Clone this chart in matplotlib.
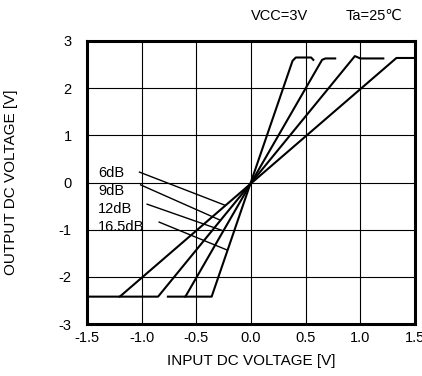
import numpy as np
import matplotlib
matplotlib.use("Agg")
import matplotlib.pyplot as plt

plt.rcParams['font.family'] = ['Liberation Sans', 'DejaVu Sans']

# curve vertices (input V, output V)
x_6db = [-1.50, -1.20, 1.33, 1.50]
y_6db = [-2.42, -2.42, 2.64, 2.64]

x_9db = [-1.20, -0.85, 0.95, 1.00, 1.21]
y_9db = [-2.42, -2.42, 2.68, 2.63, 2.63]

x_12db = [-0.76, -0.60, 0.65, 0.68, 0.77]
y_12db = [-2.42, -2.42, 2.60, 2.63, 2.63]

x_165db = [-0.60, -0.36, 0.38, 0.41, 0.55, 0.57]
y_165db = [-2.42, -2.42, 2.58, 2.65, 2.65, 2.60]

# label text positions and leader line ends
etiquetas = ['6dB', '9dB', '12dB', '16.5dB']
texto_y = [0.20, -0.18, -0.56, -0.94]
linea_ini = [(-1.02, 0.22), (-1.01, -0.05), (-0.95, -0.46), (-0.84, -0.84)]
linea_fin = [(-0.24, -0.48), (-0.28, -0.80), (-0.26, -1.02), (-0.22, -1.43)]

xticks = [-1.5, -1.0, -0.5, 0.0, 0.5, 1.0, 1.5]
yticks = [-3, -2, -1, 0, 1, 2, 3]

fig = plt.figure(figsize=(4.22, 3.76), dpi=100)
ax = fig.add_axes([87/422, 1 - 324/376, 328/422, 283/376])

for xs, ys in [(x_6db, y_6db), (x_9db, y_9db), (x_12db, y_12db), (x_165db, y_165db)]:
    ax.plot(xs, ys, color='black', lw=1.5, zorder=3)

for et, ty, p0, p1 in zip(etiquetas, texto_y, linea_ini, linea_fin):
    ax.text(-1.40, ty, et, fontsize=10.5, va='center', ha='left', zorder=4)
    ax.plot([p0[0], p1[0]], [p0[1], p1[1]], color='black', lw=1.0, zorder=3)

ax.set_xlim(-1.5, 1.5)
ax.set_ylim(-3, 3)
ax.set_xticks(xticks)
ax.set_xticklabels([f'{v:.1f}' for v in xticks])
ax.set_yticks(yticks)
ax.set_yticklabels([str(v) for v in yticks])
ax.tick_params(axis='both', length=0, labelsize=10.5)
ax.tick_params(axis='y', pad=11)
ax.tick_params(axis='x', pad=5)
ax.grid(True, color='black', lw=0.8)
ax.set_axisbelow(True)
for s in ax.spines.values():
    s.set_linewidth(2.2)

ax.set_xlabel('INPUT DC VOLTAGE [V]', fontsize=11)
ax.set_ylabel('OUTPUT DC VOLTAGE [V]', fontsize=11)
ax.xaxis.set_label_coords(0.5, -0.105)
ax.yaxis.set_label_coords(-0.21, 0.5)

fig.text(280/422, 1 - 16/376, 'VCC=3V', fontsize=10.5, ha='center', va='center')
fig.text(374/422, 1 - 16/376, 'Ta=25℃', fontsize=10.5, ha='center', va='center')

plt.savefig('out.png', dpi=100)
